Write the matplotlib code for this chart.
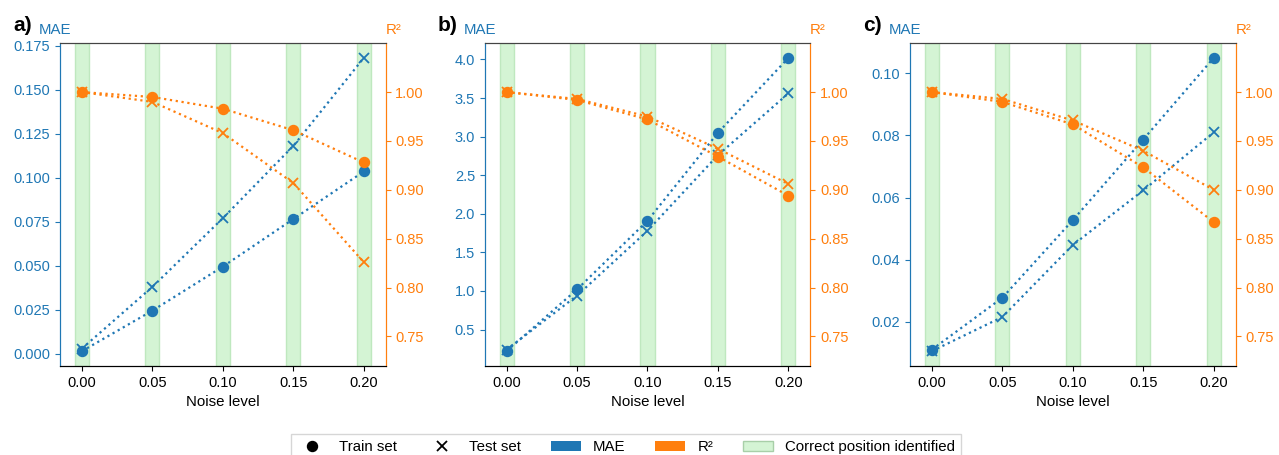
import numpy as np
import matplotlib.pyplot as plt
from matplotlib.lines import Line2D
from matplotlib.patches import Patch

plt.rcParams['font.family'] = ['Liberation Sans', 'DejaVu Sans']
plt.rcParams['font.size'] = 10.5

noise = [0.00, 0.05, 0.10, 0.15, 0.20]
correct = [0.00, 0.05, 0.10, 0.15, 0.20]
panels = ['a)', 'b)', 'c)']

# MAE, train / test
mae_train_a = [0.0015, 0.0245, 0.0495, 0.0765, 0.1035]
mae_test_a = [0.0030, 0.0380, 0.0770, 0.1180, 0.1680]
mae_train_b = [0.22, 1.02, 1.91, 3.05, 4.02]
mae_test_b = [0.24, 0.94, 1.78, 2.76, 3.56]
mae_train_c = [0.0110, 0.0277, 0.0527, 0.0787, 0.1050]
mae_test_c = [0.0105, 0.0215, 0.0447, 0.0623, 0.0810]

# R², train / test
r2_train_a = [1.000, 0.995, 0.983, 0.961, 0.928]
r2_test_a = [1.000, 0.990, 0.958, 0.907, 0.826]
r2_train_b = [1.000, 0.992, 0.972, 0.934, 0.894]
r2_test_b = [1.000, 0.993, 0.975, 0.942, 0.906]
r2_train_c = [1.000, 0.990, 0.967, 0.923, 0.867]
r2_test_c = [1.000, 0.993, 0.971, 0.940, 0.900]

mae_train = [mae_train_a, mae_train_b, mae_train_c]
mae_test = [mae_test_a, mae_test_b, mae_test_c]
r2_train = [r2_train_a, r2_train_b, r2_train_c]
r2_test = [r2_test_a, r2_test_b, r2_test_c]

blue = '#1f77b4'
orange = '#ff7f0e'
green_face = '#d4f4d4'
green_edge = '#bfe8bf'

fig = plt.figure(figsize=(12.79, 4.55), dpi=100)
lefts = [0.047, 0.379, 0.7115]
width = 0.2545
bottom, height = 0.196, 0.709

for i in range(3):
    ax = fig.add_axes([lefts[i], bottom, width, height])
    ax2 = ax.twinx()

    for c in correct:
        ax.axvspan(c - 0.005, c + 0.005, facecolor=green_face,
                   edgecolor=green_edge, lw=1, zorder=0)

    ax.plot(noise, mae_train[i], ':', color=blue, lw=1.6, marker='o', ms=7.2)
    ax.plot(noise, mae_test[i], ':', color=blue, lw=1.6, marker='x', ms=7.2, mew=1.3)
    ax2.plot(noise, r2_train[i], ':', color=orange, lw=1.6, marker='o', ms=7.2)
    ax2.plot(noise, r2_test[i], ':', color=orange, lw=1.6, marker='x', ms=7.2, mew=1.3)

    ax2.set_ylim(0.72, 1.05)
    ax2.set_yticks([0.75, 0.80, 0.85, 0.90, 0.95, 1.00])
    ax2.yaxis.set_major_formatter(plt.FormatStrFormatter('%.2f'))
    if i == 1:
        ax.yaxis.set_major_formatter(plt.FormatStrFormatter('%.1f'))
    elif i == 0:
        ax.yaxis.set_major_formatter(plt.FormatStrFormatter('%.3f'))
    else:
        ax.yaxis.set_major_formatter(plt.FormatStrFormatter('%.2f'))

    ax.set_xticks(noise)
    ax.xaxis.set_major_formatter(plt.FormatStrFormatter('%.2f'))
    ax.set_xlabel('Noise level', fontsize=10.8)

    ax.tick_params(axis='y', colors=blue)
    ax2.tick_params(axis='y', colors=orange)
    for a in (ax, ax2):
        a.spines['left'].set_color(blue)
        a.spines['right'].set_color(orange)
        a.spines['top'].set_color('#444444')
        a.spines['bottom'].set_color('black')

    ax.text(-0.065, 1.028, 'MAE', transform=ax.transAxes, color=blue,
            ha='left', va='baseline', fontsize=10.8)
    ax2.text(1.0, 1.028, 'R²', transform=ax2.transAxes, color=orange,
             ha='left', va='baseline', fontsize=10.8)
    ax.text(-0.145, 1.037, panels[i], transform=ax.transAxes, fontsize=15,
            fontweight='bold', ha='left', va='baseline')

handles = [
    Line2D([], [], ls='', marker='o', color='black', ms=7.2),
    Line2D([], [], ls='', marker='x', color='black', ms=7.2, mew=1.3),
    Patch(facecolor=blue),
    Patch(facecolor=orange),
    Patch(facecolor=green_face, edgecolor='#a8cfa8'),
]
labels = ['Train set', 'Test set', 'MAE', 'R²', 'Correct position identified']
fig.legend(handles, labels, loc='upper center', ncol=5, bbox_to_anchor=(0.4895, 0.046),
           borderaxespad=0, frameon=True, fancybox=False, edgecolor='#cccccc',
           fontsize=10.8)

plt.savefig('out.png', dpi=100)
